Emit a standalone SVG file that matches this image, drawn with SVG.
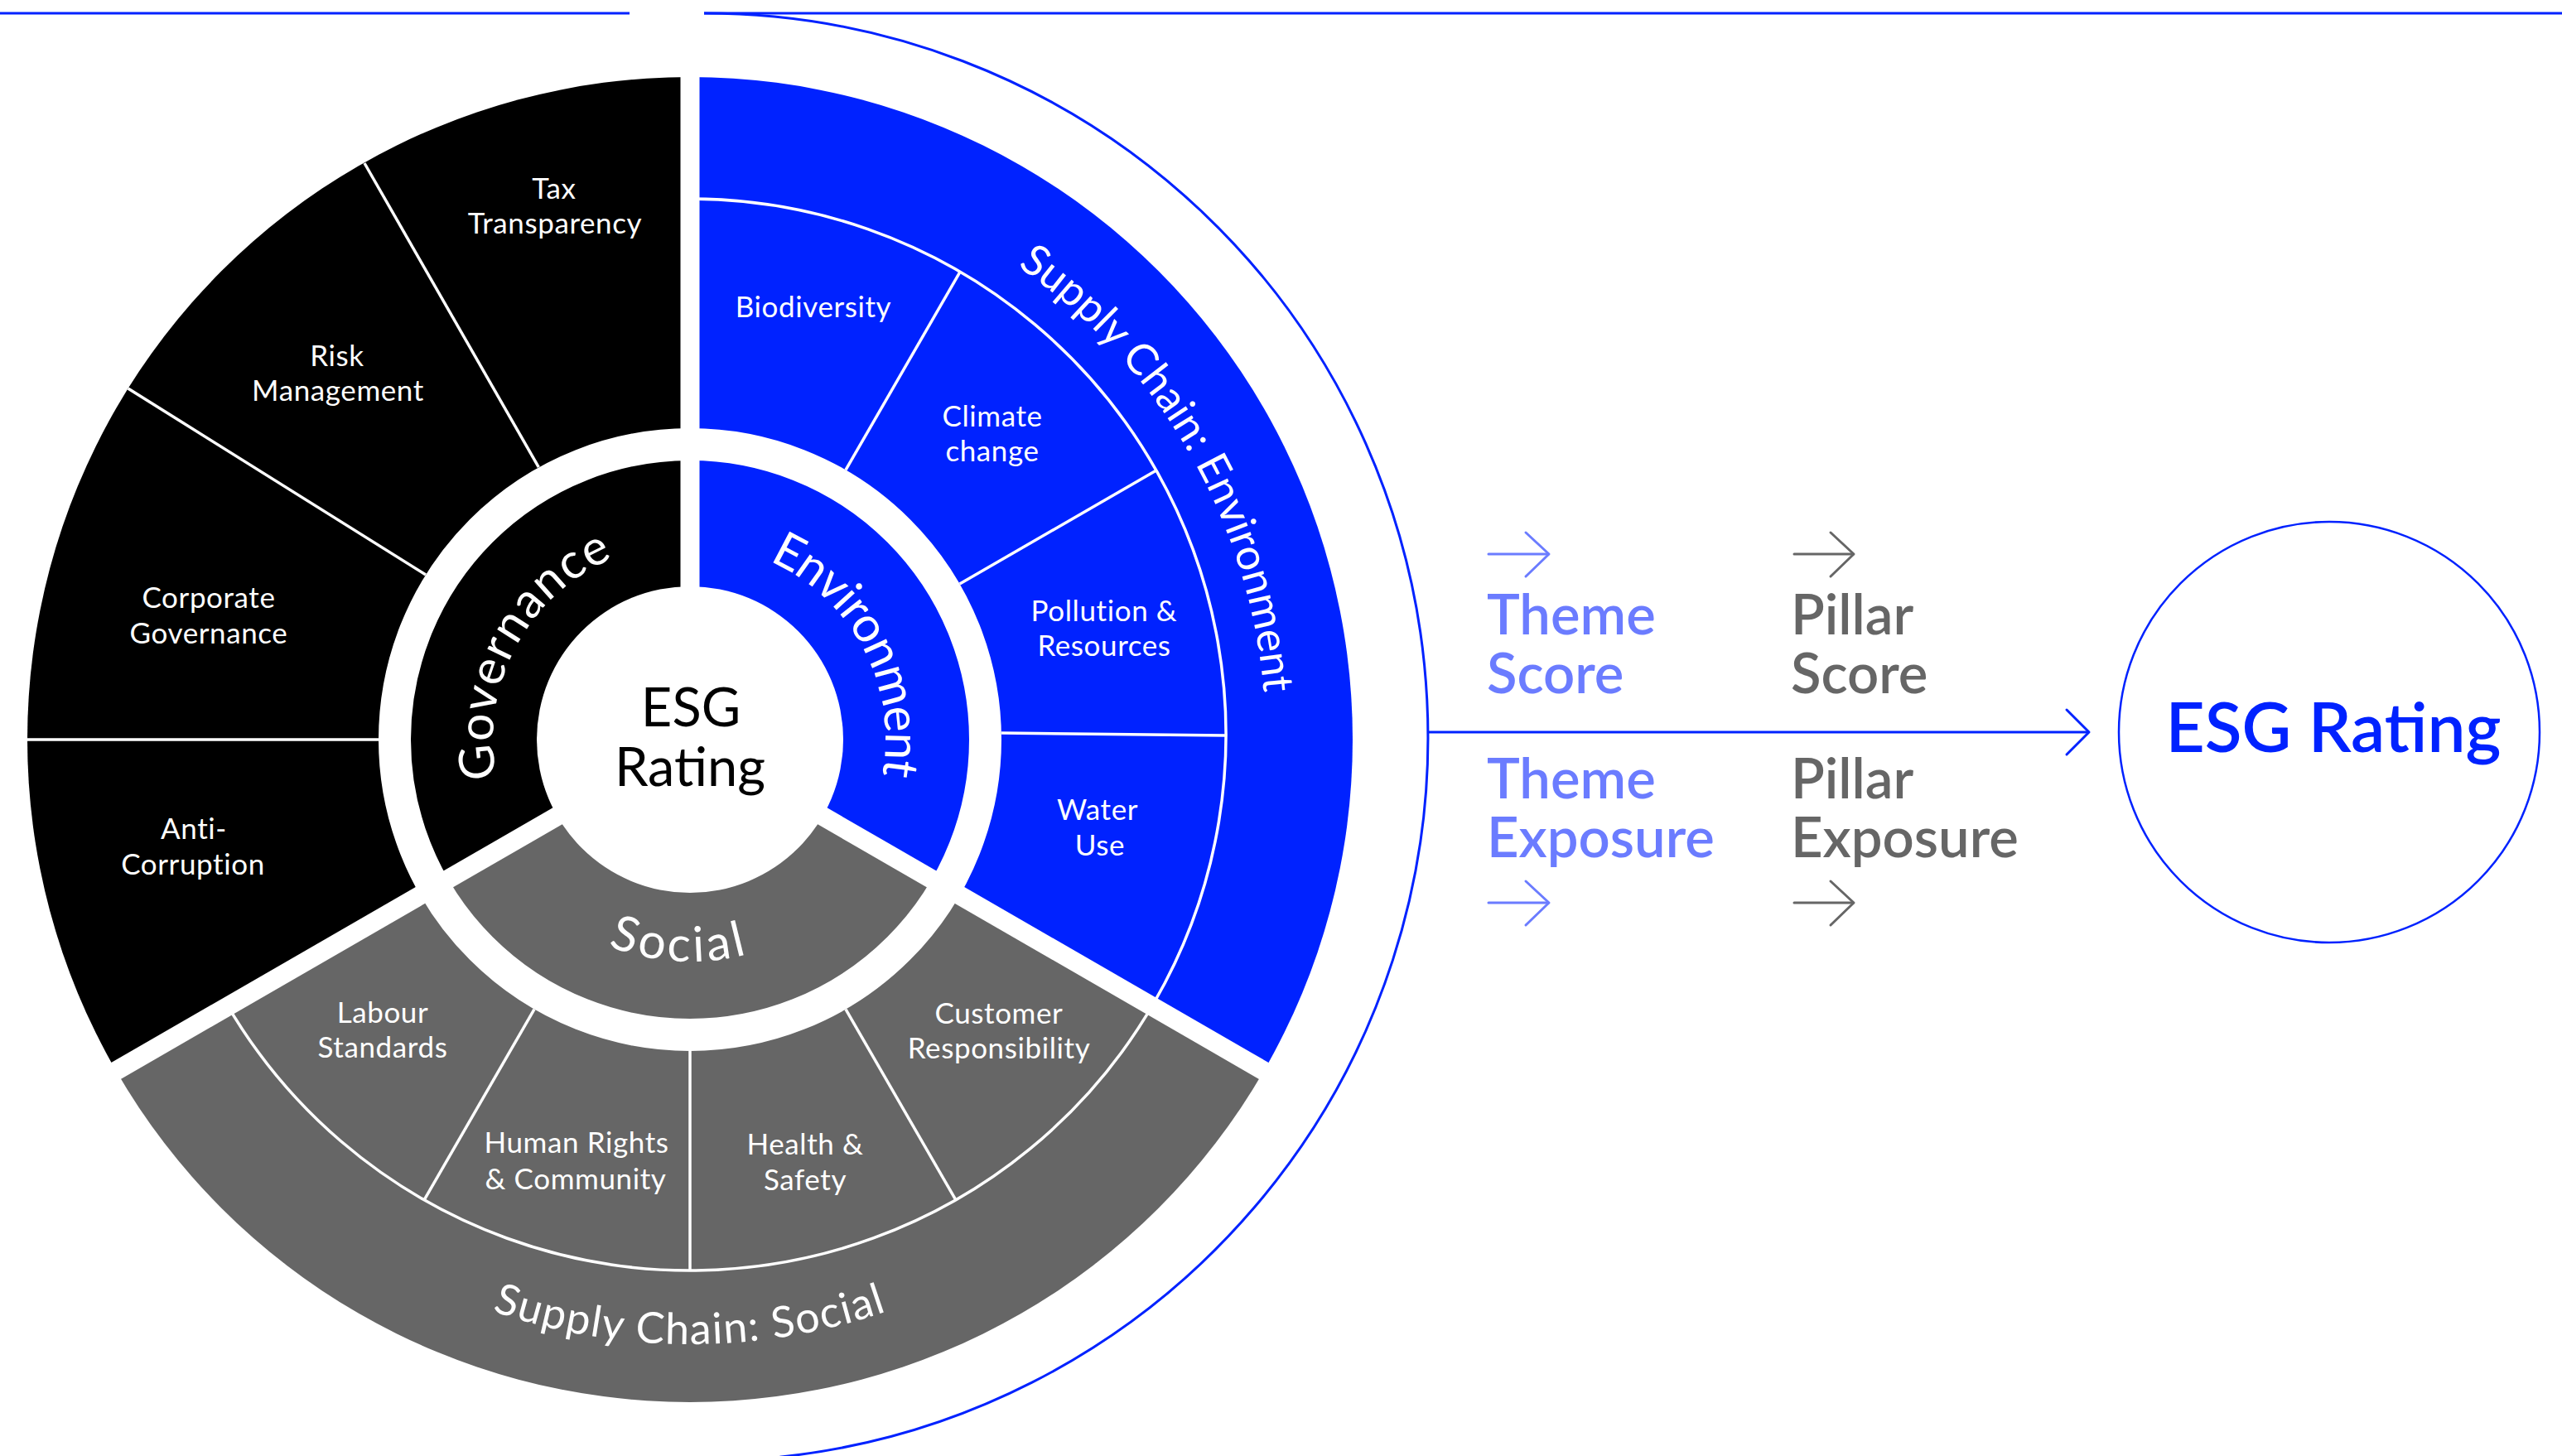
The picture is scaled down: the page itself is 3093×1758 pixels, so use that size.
<svg xmlns="http://www.w3.org/2000/svg" width="3093" height="1758" viewBox="0 0 3093 1758">
<style>
  .lbl { font-family: Lato, "Liberation Sans", sans-serif; font-weight: 400; }
  .wt { fill: #ffffff; font-size: 35px; letter-spacing: 0.6px; text-anchor: middle; }
  .pill { fill: #ffffff; font-size: 59px; }
  .sc { fill: #ffffff; font-size: 52px; }
  .ctr { fill: #000000; font-size: 65px; text-anchor: middle; }
  .theme { fill: #6B7CFF; font-size: 67px; font-weight: 600; }
  .pillar { fill: #666666; font-size: 67px; font-weight: 600; }
  .rating { fill: #0022FF; font-size: 82px; text-anchor: middle; font-weight: 600; }
  .sep { stroke: #ffffff; stroke-width: 23; }
  .thin { stroke: #ffffff; stroke-width: 3.5; fill: none; }
  .blueLine { stroke: #0022FF; fill: none; stroke-width: 3; }
  .arrT { stroke: #6B7CFF; fill: none; stroke-width: 3; stroke-linecap: round; stroke-linejoin: round; }
  .arrP { stroke: #666666; fill: none; stroke-width: 3; stroke-linecap: round; stroke-linejoin: round; }
</style>
<defs>
  <path id="pGov" d="M 631.2 1019.1 A 238 238 0 0 1 824.7 655.1"/>
  <path id="pEnv" d="M 841.2 657.1 A 236 236 0 0 1 1033.1 1018.1"/>
  <path id="pSoc" d="M 594.2 1014.7 A 268 268 0 0 0 1057.8 1039"/>
  <path id="pScEnv" d="M 833 198 A 695 695 0 0 1 1434.9 1240.5"/>
  <path id="pScSoc" d="M 200.8 1258 A 730 730 0 0 0 1465.2 1258"/>
</defs>
<rect width="3093" height="1758" fill="#ffffff"/>

<!-- frame lines -->
<g id="frame">
  <line class="blueLine" x1="0" y1="16" x2="760" y2="16"/>
  <line class="blueLine" x1="850" y1="16" x2="3093" y2="16"/>
  <path class="blueLine" stroke-width="2.5" d="M 850 16 A 874 874 0 0 1 941.4 1759.2"/>
</g>

<!-- wheel sectors -->
<g id="governance">
  <path d="M 833 893 L 140.2 1293 A 800 800 0 0 1 833 93 Z" fill="#000000"/>
</g>
<g id="environment">
  <path d="M 833 893 L 833 93 A 800 800 0 0 1 1525.8 1293 Z" fill="#0022FF"/>
</g>
<g id="social">
  <path d="M 833 893 L 1525.8 1293 A 800 800 0 0 1 140.2 1293 Z" fill="#666666"/>
</g>

<!-- white separators -->
<g id="separators">
  <circle cx="833" cy="893" r="356.5" fill="none" stroke="#ffffff" stroke-width="39"/>
  <line class="sep" x1="833" y1="893" x2="833" y2="78"/>
  <line class="sep" x1="833" y1="893" x2="127" y2="1300.5"/>
  <line class="sep" x1="833" y1="893" x2="1538.8" y2="1300.5"/>
  <!-- governance theme lines -->
  <line class="thin" x1="457" y1="893" x2="33" y2="893"/>
  <line class="thin" x1="514" y1="694" x2="154.6" y2="469"/>
  <line class="thin" x1="650.3" y1="564.1" x2="440" y2="197"/>
  <!-- environment theme lines -->
  <line class="thin" x1="1021" y1="567.4" x2="1159.1" y2="328.2"/>
  <line class="thin" x1="1158.6" y1="705" x2="1395.9" y2="568"/>
  <line class="thin" x1="1209" y1="885" x2="1480" y2="888"/>
  <!-- social theme lines -->
  <line class="thin" x1="1021" y1="1218.6" x2="1153.9" y2="1448.8"/>
  <line class="thin" x1="833" y1="1269" x2="833" y2="1534"/>
  <line class="thin" x1="645" y1="1218.6" x2="512.1" y2="1448.8"/>
  <!-- supply chain boundary -->
  <path class="thin" d="M 833 240 A 647 647 0 1 1 272.7 1210.5"/>
  <circle cx="833" cy="893" r="185" fill="#ffffff"/>
</g>

<!-- center node -->
<g id="esg-center">
  <text class="lbl ctr"><tspan x="834" y="877">ESG</tspan><tspan x="833" y="949">Rating</tspan></text>
</g>

<!-- pillar labels -->
<g id="pillar-governance"><text class="lbl pill" letter-spacing="1.5"><textPath href="#pGov" startOffset="50%" text-anchor="middle">Governance</textPath></text></g>
<g id="pillar-environment"><text class="lbl pill" letter-spacing="-1.5"><textPath href="#pEnv" startOffset="50%" text-anchor="middle">Environment</textPath></text></g>
<g id="pillar-social"><text class="lbl pill" letter-spacing="4"><textPath href="#pSoc" startOffset="50%" text-anchor="middle">Social</textPath></text></g>

<!-- supply chain labels -->
<g id="sc-environment"><text class="lbl sc"><textPath href="#pScEnv" startOffset="50%" text-anchor="middle">Supply Chain: Environment</textPath></text></g>
<g id="sc-social"><text class="lbl sc" font-size="53" letter-spacing="1.5"><textPath href="#pScSoc" startOffset="50%" text-anchor="middle">Supply Chain: Social</textPath></text></g>

<!-- governance themes -->
<g id="t-tax"><text class="lbl wt"><tspan x="669" y="240">Tax</tspan><tspan x="670" y="282">Transparency</tspan></text></g>
<g id="t-risk"><text class="lbl wt"><tspan x="407" y="442">Risk</tspan><tspan x="408" y="484">Management</tspan></text></g>
<g id="t-corp"><text class="lbl wt"><tspan x="252" y="734">Corporate</tspan><tspan x="252" y="777">Governance</tspan></text></g>
<g id="t-anti"><text class="lbl wt"><tspan x="234" y="1013">Anti-</tspan><tspan x="233" y="1056">Corruption</tspan></text></g>

<!-- environment themes -->
<g id="t-bio"><text class="lbl wt"><tspan x="982" y="383">Biodiversity</tspan></text></g>
<g id="t-climate"><text class="lbl wt"><tspan x="1198" y="515">Climate</tspan><tspan x="1198" y="557">change</tspan></text></g>
<g id="t-pollution"><text class="lbl wt"><tspan x="1333" y="750">Pollution &amp;</tspan><tspan x="1333" y="792">Resources</tspan></text></g>
<g id="t-water"><text class="lbl wt"><tspan x="1325" y="990">Water</tspan><tspan x="1328" y="1033">Use</tspan></text></g>

<!-- social themes -->
<g id="t-labour"><text class="lbl wt"><tspan x="462" y="1235">Labour</tspan><tspan x="462" y="1277">Standards</tspan></text></g>
<g id="t-human"><text class="lbl wt"><tspan x="696" y="1392">Human Rights</tspan><tspan x="695" y="1436">&amp; Community</tspan></text></g>
<g id="t-health"><text class="lbl wt"><tspan x="972" y="1394">Health &amp;</tspan><tspan x="972" y="1437">Safety</tspan></text></g>
<g id="t-customer"><text class="lbl wt"><tspan x="1206" y="1236">Customer</tspan><tspan x="1206" y="1278">Responsibility</tspan></text></g>

<!-- right side labels -->
<g id="theme-score"><text class="lbl theme"><tspan x="1795" y="766">Theme</tspan><tspan x="1795" y="837">Score</tspan></text></g>
<g id="pillar-score"><text class="lbl pillar"><tspan x="2162" y="766">Pillar</tspan><tspan x="2162" y="837">Score</tspan></text></g>
<g id="theme-exposure"><text class="lbl theme"><tspan x="1795" y="964">Theme</tspan><tspan x="1795" y="1035">Exposure</tspan></text></g>
<g id="pillar-exposure"><text class="lbl pillar"><tspan x="2162" y="964">Pillar</tspan><tspan x="2162" y="1035">Exposure</tspan></text></g>

<!-- ESG rating node -->
<g id="esg-rating">
  <circle cx="2812" cy="884" r="254" fill="none" stroke="#0022FF" stroke-width="2.5"/>
  <text class="lbl rating" x="2817" y="908">ESG Rating</text>
</g>

<!-- connectors -->
<g id="connectors">
  <line class="blueLine" x1="1724" y1="884" x2="2521" y2="884"/>
  <polyline class="blueLine" stroke-linecap="round" stroke-linejoin="round" points="2495,857 2522,884 2495,911"/>
  <line class="arrT" x1="1797" y1="669" x2="1869" y2="669"/>
  <polyline class="arrT" points="1842,643 1870,669 1842,696"/>
  <line class="arrP" x1="2166" y1="669" x2="2237" y2="669"/>
  <polyline class="arrP" points="2210,643 2238,669 2210,696"/>
  <line class="arrT" x1="1797" y1="1090" x2="1869" y2="1090"/>
  <polyline class="arrT" points="1842,1064 1870,1090 1842,1117"/>
  <line class="arrP" x1="2166" y1="1090" x2="2237" y2="1090"/>
  <polyline class="arrP" points="2210,1064 2238,1090 2210,1117"/>
</g>
</svg>
